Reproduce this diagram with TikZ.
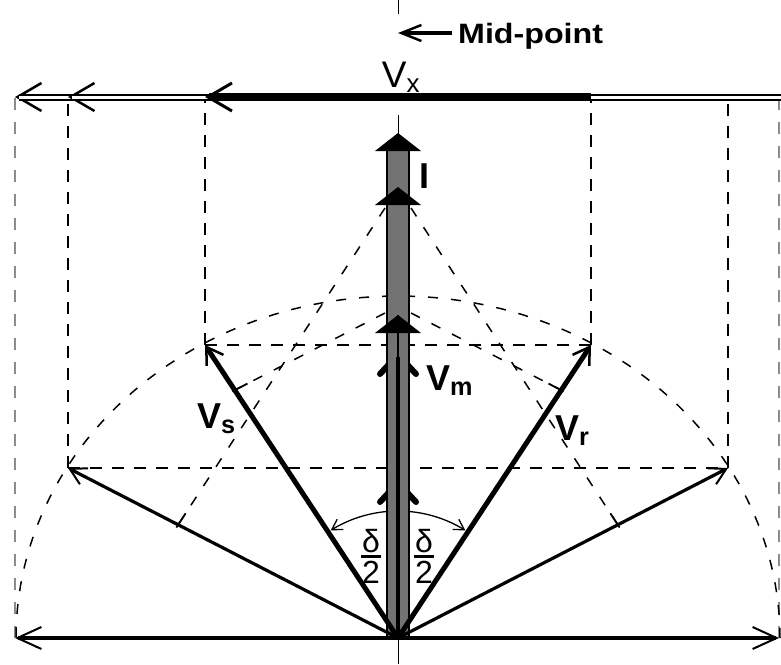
\documentclass[tikz,border=0pt]{standalone}
\usepackage{fontspec}
\setmainfont{Liberation Sans}
\usetikzlibrary{arrows.meta, calc}

\begin{document}
\begin{tikzpicture}[
  x=1pt, y=-1pt,
  every node/.style={inner sep=0pt},
  lbl/.style={font=\fontsize{36}{36}\selectfont\bfseries, anchor=base west},
  vec/.style={line width=5pt, -{Straight Barb[length=16pt,width=20pt,line width=2.5pt]}},
  vecthin/.style={line width=3.2pt, -{Straight Barb[length=16pt,width=18pt,line width=2pt]}},
  baseline/.style={line width=4pt, -{Straight Barb[length=24pt,width=22pt,line width=2pt]}},
  guide/.style={dash pattern=on 12pt off 10pt, line width=2.2pt},
  faint/.style={dash pattern=on 12pt off 12pt, line width=1.8pt, black!45},
  locus/.style={dash pattern=on 10pt off 13pt, line width=1.5pt},
  tick/.style={line width=1.8pt},
  vxtip/.style={line width=2pt, -{Straight Barb[length=24pt,width=28pt,line width=2.5pt]}},
  vxshaft/.style={double, line width=2pt, double distance=3pt},
  vmbarb/.style={line width=6pt, line cap=round},
  angarc/.style={line width=1.3pt, -{Straight Barb[length=10pt,width=12pt,line width=1.3pt]}}
]
\useasboundingbox (0,0) rectangle (781,664);

% Phasor end points
\coordinate (O) at (398,638);
\coordinate (s0) at (15,638);
\coordinate (r0) at (779,638);
\coordinate (s1) at (205,345);
\coordinate (r1) at (591,345);
\coordinate (s2) at (68,468);
\coordinate (r2) at (728,468);
\coordinate (vm1) at (398,357);
\coordinate (vm2) at (398,485);
\coordinate (i1) at (398,315);
\coordinate (i2) at (398,187);
\coordinate (i3) at (398,133);

% Vx line
\coordinate (x0l) at (15,97);
\coordinate (x0r) at (781,97);
\coordinate (x1l) at (205,97);
\coordinate (x1r) at (591,97);
\coordinate (x2l) at (68,97);
\coordinate (x2r) at (728,97);

% Mid-point axis
\draw[line width=1pt] (398,0) -- (398,14);
\draw[line width=1pt] (398,115) -- (398,664);

% Projections
\draw[faint] (s0) -- (x0l);
\draw[faint] (r0) -- (r0 |- x0l);
\draw[guide] (s2) -- (x2l);
\draw[guide] (r2) -- (x2r);
\draw[guide] (s1) -- (x1l);
\draw[guide] (r1) -- (x1r);
\draw[guide] (s1) -- (r1);
\draw[guide] (s2) -- (r2);

% Locus of the sending and receiving end voltages
\draw[locus] plot[domain=0:180, samples=120] ({398+382*cos(\x)}, {638-342*sin(\x)});

% Perpendiculars from the current tips
\coordinate (p1s) at (385,208);
\coordinate (p1e) at (178,525);
\coordinate (q1s) at (411,208);
\coordinate (q1e) at (618,525);
\coordinate (p2s) at (385,313);
\coordinate (p2e) at (235,390);
\coordinate (q2s) at (411,313);
\coordinate (q2e) at (561,390);
\foreach \a/\b in {p1s/p1e, q1s/q1e, p2s/p2e, q2s/q2e} {
  \draw[locus] (\a) -- (\b);
  \draw[tick] ($(\b)!14pt!(\a)$) -- ($(\b)!-3pt!(\a)$);
}

% Vx
\draw[vxtip] (x0r) -- (x0l);
\draw[vxshaft] (x0r) -- ($(x0l)+(4,0)$);
\draw[vxtip] (x2r) -- (x2l);
\draw[vxshaft] (x2r) -- ($(x2l)+(4,0)$);
\draw[line width=8pt, -{Straight Barb[length=24pt,width=28pt,line width=3pt]}] (x1r) -- (x1l);

% Vm and I along the mid-point axis
\foreach \t in {vm1, vm2}
  \draw[vmbarb] (\t) ++(-18,17) -- ++(14,-15) ++(8,0) -- ++(14,15);
\draw[line width=2.5pt, fill=black!55] (387,638) rectangle (409,150);
\draw[line width=4pt] (O) -- (vm1);
\draw[line width=1.5pt] (vm1) -- (i1);
\foreach \t in {i1, i2, i3}
  \fill (\t) -- ++(23,18) -- ++(-46,0) -- cycle;

% Voltage phasors
\draw[baseline] (O) -- (s0);
\draw[baseline] (O) -- (r0);
\draw[vecthin] (O) -- (s2);
\draw[vecthin] (O) -- (r2);
\draw[vec] (O) -- (s1);
\draw[vec] (O) -- (r1);

% Load angle
\draw[angarc] plot[domain=94.5:122, samples=30] ({398+127*cos(\x)}, {638-127*sin(\x)});
\draw[angarc] plot[domain=85.5:58, samples=30] ({398+127*cos(\x)}, {638-127*sin(\x)});

% Labels
\coordinate (mid) at (398,33);
\coordinate (midtail) at (452,33);
\draw[line width=4pt, -{Straight Barb[length=20pt,width=16pt,line width=2.5pt]}] (midtail) -- (mid);
\node[font=\fontsize{28}{28}\selectfont\bfseries, anchor=base west] (midlbl) at (458,43) {\scalebox{1.15}[1]{Mid-point}};
\node[font=\fontsize{37}{37}\selectfont, anchor=base] (vxlbl) at (401,87) {V\textsubscript{x}};
\node[lbl] (ilbl) at (419,188) {I};
\node[lbl] (vmlbl) at (426,390) {V\textsubscript{m}};
\node[lbl] (vslbl) at (197,428) {V\textsubscript{s}};
\node[lbl] (vrlbl) at (555,440) {V\textsubscript{r}};
\node[font=\fontsize{32}{32}\selectfont] (dl) at (371,556) {\shortstack{δ\\\rule{20pt}{2.5pt}\\2}};
\node[font=\fontsize{32}{32}\selectfont] (dr) at (424,556) {\shortstack{δ\\\rule{20pt}{2.5pt}\\2}};

\end{tikzpicture}
\end{document}
